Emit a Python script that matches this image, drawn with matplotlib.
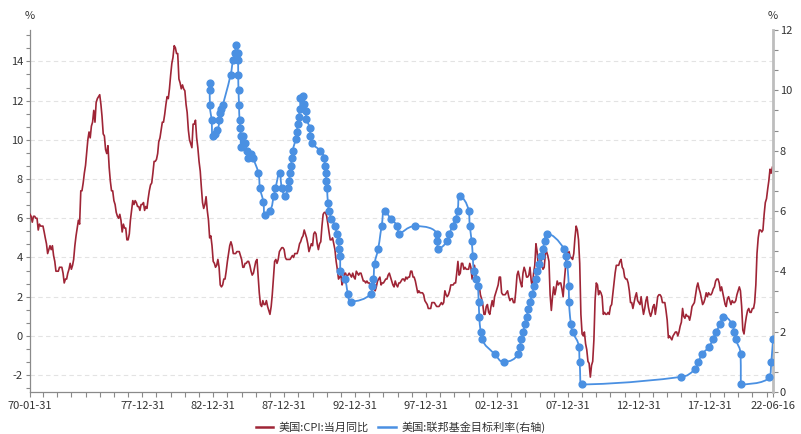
import numpy as np
import pandas as pd
import matplotlib
matplotlib.use("Agg")
import matplotlib.pyplot as plt
import matplotlib.dates as mdates
from matplotlib.path import Path
from matplotlib.patches import PathPatch
from matplotlib.lines import Line2D

plt.rcParams['font.family'] = ['Noto Sans CJK SC', 'DejaVu Sans']

# ---------------- data ----------------
cpi_start = "1970-01-31"   # monthly, month-end
cpi_yoy = [
    6.2, 6.1, 5.8, 6.1, 6.1, 6.0, 6.0, 5.4, 5.7, 5.6, 5.6, 5.6,      # 1970
    5.3, 5.0, 4.7, 4.2, 4.4, 4.6, 4.4, 4.6, 4.1, 3.8, 3.3, 3.3,      # 1971
    3.3, 3.5, 3.5, 3.5, 3.2, 2.7, 2.9, 2.9, 3.2, 3.4, 3.7, 3.4,      # 1972
    3.6, 3.9, 4.6, 5.1, 5.5, 5.9, 5.7, 7.4, 7.4, 7.8, 8.3, 8.7,      # 1973
    9.4, 10.0, 10.4, 10.1, 10.7, 10.9, 11.5, 10.9, 11.9, 12.1, 12.2, 12.3,  # 1974
    11.8, 11.2, 10.3, 10.2, 9.5, 9.3, 9.7, 8.6, 7.9, 7.4, 7.4, 6.9,  # 1975
    6.7, 6.3, 6.1, 6.0, 6.2, 5.9, 5.3, 5.7, 5.5, 5.5, 4.9, 4.9,      # 1976
    5.2, 5.9, 6.4, 6.9, 6.7, 6.9, 6.8, 6.6, 6.6, 6.4, 6.7, 6.7,      # 1977
    6.8, 6.4, 6.6, 6.5, 7.0, 7.4, 7.7, 7.8, 8.3, 8.9, 8.9, 9.0,      # 1978
    9.3, 9.9, 10.1, 10.5, 10.9, 10.9, 11.3, 11.8, 12.2, 12.1, 12.6, 13.3,  # 1979
    13.9, 14.2, 14.8, 14.7, 14.4, 14.4, 13.1, 12.9, 12.6, 12.8, 12.6, 12.5,  # 1980
    11.8, 11.4, 10.5, 10.0, 9.8, 9.6, 10.8, 10.8, 11.0, 10.1, 9.6, 8.9,  # 1981
    8.4, 7.6, 6.8, 6.5, 6.7, 7.1, 6.4, 5.9, 5.0, 5.1, 4.6, 3.8,      # 1982
    3.7, 3.5, 3.6, 3.9, 3.5, 2.6, 2.5, 2.6, 2.9, 2.9, 3.3, 3.8,      # 1983
    4.2, 4.6, 4.8, 4.6, 4.2, 4.2, 4.2, 4.3, 4.3, 4.3, 4.1, 3.9,      # 1984
    3.5, 3.5, 3.7, 3.7, 3.8, 3.8, 3.6, 3.3, 3.1, 3.2, 3.5, 3.8,      # 1985
    3.9, 3.1, 2.2, 1.6, 1.5, 1.8, 1.6, 1.6, 1.8, 1.5, 1.3, 1.1,      # 1986
    1.5, 2.1, 3.0, 3.8, 3.9, 3.7, 3.9, 4.3, 4.4, 4.5, 4.5, 4.4,      # 1987
    4.0, 3.9, 3.9, 3.9, 3.9, 4.0, 4.1, 4.0, 4.2, 4.2, 4.2, 4.4,      # 1988
    4.7, 4.8, 5.0, 5.1, 5.4, 5.2, 5.0, 4.7, 4.3, 4.5, 4.7, 4.6,      # 1989
    5.2, 5.3, 5.2, 4.7, 4.4, 4.7, 4.8, 5.6, 6.2, 6.3, 6.3, 6.1,      # 1990
    5.7, 5.3, 4.9, 4.9, 5.0, 4.7, 4.4, 3.8, 3.4, 2.9, 3.0, 3.1,      # 1991
    2.6, 2.8, 3.2, 3.2, 3.0, 3.1, 3.2, 3.1, 3.0, 3.2, 3.0, 2.9,      # 1992
    3.3, 3.2, 3.1, 3.2, 3.2, 3.0, 2.8, 2.8, 2.7, 2.8, 2.7, 2.7,      # 1993
    2.5, 2.5, 2.5, 2.4, 2.3, 2.5, 2.8, 2.9, 3.0, 2.6, 2.7, 2.7,      # 1994
    2.8, 2.9, 2.9, 3.1, 3.2, 3.0, 2.8, 2.6, 2.5, 2.8, 2.6, 2.5,      # 1995
    2.7, 2.7, 2.8, 2.9, 2.9, 2.8, 3.0, 2.9, 3.0, 3.0, 3.3, 3.3,      # 1996
    3.0, 3.0, 2.8, 2.5, 2.2, 2.3, 2.2, 2.2, 2.2, 2.1, 1.8, 1.7,      # 1997
    1.6, 1.4, 1.4, 1.4, 1.7, 1.7, 1.7, 1.6, 1.5, 1.5, 1.5, 1.6,      # 1998
    1.7, 1.6, 1.7, 2.3, 2.1, 2.0, 2.1, 2.3, 2.6, 2.6, 2.6, 2.7,      # 1999
    2.7, 3.2, 3.8, 3.1, 3.2, 3.7, 3.7, 3.4, 3.5, 3.4, 3.4, 3.4,      # 2000
    3.7, 3.5, 2.9, 3.3, 3.6, 3.2, 2.7, 2.7, 2.6, 2.1, 1.9, 1.6,      # 2001
    1.1, 1.1, 1.5, 1.6, 1.2, 1.1, 1.5, 1.8, 1.5, 2.0, 2.2, 2.4,      # 2002
    2.6, 3.0, 3.0, 2.2, 2.1, 2.1, 2.1, 2.2, 2.3, 2.0, 1.8, 1.9,      # 2003
    1.9, 1.7, 1.7, 2.3, 3.1, 3.3, 3.0, 2.7, 2.5, 3.2, 3.5, 3.3,      # 2004
    3.0, 3.0, 3.1, 3.5, 2.8, 2.5, 3.2, 3.6, 4.7, 4.3, 3.5, 3.4,      # 2005
    4.0, 3.6, 3.4, 3.5, 4.2, 4.3, 4.1, 3.8, 2.1, 1.3, 2.0, 2.5,      # 2006
    2.1, 2.4, 2.8, 2.6, 2.7, 2.7, 2.4, 2.0, 2.8, 3.5, 4.3, 4.1,      # 2007
    4.3, 4.0, 4.0, 3.9, 4.2, 5.0, 5.6, 5.4, 4.9, 3.7, 1.1, 0.1,      # 2008
    0.0, 0.2, -0.4, -0.7, -1.3, -1.4, -2.1, -1.5, -1.3, -0.2, 1.8, 2.7,  # 2009
    2.6, 2.1, 2.3, 2.2, 2.0, 1.1, 1.2, 1.1, 1.1, 1.2, 1.1, 1.5,      # 2010
    1.6, 2.1, 2.7, 3.2, 3.6, 3.6, 3.6, 3.8, 3.9, 3.5, 3.4, 3.0,      # 2011
    2.9, 2.9, 2.7, 2.3, 1.7, 1.7, 1.4, 1.7, 2.0, 2.2, 1.8, 1.7,      # 2012
    1.6, 2.0, 1.5, 1.1, 1.4, 1.8, 2.0, 1.5, 1.2, 1.0, 1.2, 1.5,      # 2013
    1.6, 1.1, 1.5, 2.0, 2.1, 2.1, 2.0, 1.7, 1.7, 1.7, 1.3, 0.8,      # 2014
    -0.1, 0.0, -0.1, -0.2, 0.0, 0.1, 0.2, 0.2, 0.0, 0.2, 0.5, 0.7,   # 2015
    1.4, 1.0, 0.9, 1.1, 1.0, 1.0, 0.8, 1.1, 1.5, 1.6, 1.7, 2.1,      # 2016
    2.5, 2.7, 2.4, 2.2, 1.9, 1.6, 1.7, 1.9, 2.2, 2.0, 2.2, 2.1,      # 2017
    2.1, 2.2, 2.4, 2.5, 2.8, 2.9, 2.9, 2.7, 2.3, 2.5, 2.2, 1.9,      # 2018
    1.6, 1.5, 1.9, 2.0, 1.8, 1.6, 1.8, 1.7, 1.7, 1.8, 2.1, 2.3,      # 2019
    2.5, 2.3, 1.5, 0.3, 0.1, 0.6, 1.0, 1.3, 1.4, 1.2, 1.2, 1.4,      # 2020
    1.4, 1.7, 2.6, 4.2, 5.0, 5.4, 5.4, 5.3, 5.4, 6.2, 6.8, 7.0,      # 2021
    7.5, 7.9, 8.5, 8.3, 8.6,                                          # 2022
]

fed_dates = [
    "1982-09-27", "1982-10-01", "1982-10-07", "1982-11-19", "1982-12-14",
    "1983-02-10", "1983-04-20", "1983-06-10", "1983-06-24", "1983-07-30", "1983-09-01",
    "1984-03-20", "1984-05-25", "1984-07-15", "1984-08-09", "1984-09-28", "1984-10-02",
    "1984-10-05", "1984-10-12", "1984-10-26", "1984-11-08", "1984-11-30", "1984-12-06",
    "1984-12-18",
    "1985-02-07", "1985-03-21", "1985-05-20", "1985-06-15", "1985-09-10", "1985-10-25",
    "1986-03-07", "1986-04-21", "1986-07-11", "1986-08-21", "1986-12-31",
    "1987-04-10", "1987-05-20", "1987-09-04", "1987-11-04",
    "1988-01-28", "1988-03-30", "1988-05-09", "1988-05-25", "1988-06-22", "1988-07-19",
    "1988-08-08", "1988-10-20", "1988-11-17", "1988-12-20",
    "1989-01-10", "1989-02-10", "1989-02-24", "1989-05-04", "1989-06-06", "1989-07-07",
    "1989-07-27", "1989-10-18", "1989-11-06", "1989-12-20",
    "1990-07-13", "1990-10-29", "1990-11-14", "1990-12-07", "1990-12-19",
    "1991-01-09", "1991-02-01", "1991-03-08", "1991-04-30", "1991-08-06", "1991-09-13",
    "1991-10-31", "1991-11-06", "1991-12-06", "1991-12-20",
    "1992-04-09", "1992-07-02", "1992-09-04",
    "1994-02-04", "1994-03-22", "1994-04-18", "1994-05-17", "1994-08-16", "1994-11-15",
    "1995-02-01", "1995-07-06", "1995-12-19", "1996-01-31", "1997-03-25",
    "1998-09-29", "1998-10-15", "1998-11-17", "1999-06-30", "1999-08-24", "1999-11-16",
    "2000-02-02", "2000-03-21", "2000-05-16",
    "2001-01-03", "2001-01-31", "2001-03-20", "2001-04-18", "2001-05-15", "2001-06-27",
    "2001-08-21", "2001-09-17", "2001-10-02", "2001-11-06", "2001-12-11",
    "2002-11-06", "2003-06-25",
    "2004-06-30", "2004-08-10", "2004-09-21", "2004-11-10", "2004-12-14",
    "2005-02-02", "2005-03-22", "2005-05-03", "2005-06-30", "2005-08-09", "2005-09-20",
    "2005-11-01", "2005-12-13",
    "2006-01-31", "2006-03-28", "2006-05-10", "2006-06-29",
    "2007-09-18", "2007-10-31", "2007-12-11",
    "2008-01-22", "2008-01-30", "2008-03-18", "2008-04-30", "2008-10-08", "2008-10-29",
    "2008-12-16",
    "2015-12-16", "2016-12-14", "2017-03-15", "2017-06-14", "2017-12-13",
    "2018-03-21", "2018-06-13", "2018-09-26", "2018-12-19",
    "2019-07-31", "2019-09-18", "2019-10-30", "2020-03-03", "2020-03-15",
    "2022-03-16", "2022-05-04", "2022-06-15",
]
fed_rates = [
    10.25, 10.00, 9.50, 9.00, 8.50,
    8.5625, 8.6875, 9.00, 9.25, 9.375, 9.50,
    10.50, 11.00, 11.25, 11.50, 11.25, 11.00,
    10.50, 10.00, 9.50, 9.00, 8.75, 8.50,
    8.125,
    8.50, 8.25, 8.00, 7.75, 7.90, 7.75,
    7.25, 6.75, 6.3125, 5.875, 6.00,
    6.50, 6.75, 7.25, 6.75,
    6.50, 6.75, 7.00, 7.25, 7.50, 7.75,
    8.00, 8.375, 8.625, 8.875,
    9.125, 9.375, 9.75, 9.8125, 9.5625, 9.3125,
    9.0625, 8.75, 8.50, 8.25,
    8.00, 7.75, 7.50, 7.25, 7.00,
    6.75, 6.25, 6.00, 5.75, 5.50, 5.25,
    5.00, 4.75, 4.50, 4.00,
    3.75, 3.25, 3.00,
    3.25, 3.50, 3.75, 4.25, 4.75, 5.50,
    6.00, 5.75, 5.50, 5.25, 5.50,
    5.25, 5.00, 4.75, 5.00, 5.25, 5.50,
    5.75, 6.00, 6.50,
    6.00, 5.50, 5.00, 4.50, 4.00, 3.75,
    3.50, 3.00, 2.50, 2.00, 1.75,
    1.25, 1.00,
    1.25, 1.50, 1.75, 2.00, 2.25,
    2.50, 2.75, 3.00, 3.25, 3.50, 3.75,
    4.00, 4.25,
    4.50, 4.75, 5.00, 5.25,
    4.75, 4.50, 4.25,
    3.50, 3.00, 2.25, 2.00, 1.50, 1.00,
    0.25,
    0.50, 0.75, 1.00, 1.25, 1.50,
    1.75, 2.00, 2.25, 2.50,
    2.25, 2.00, 1.75, 1.25, 0.25,
    0.50, 1.00, 1.75,
]

x_start, x_end = "1970-01-31", "2022-06-16"
x_label_dates = ["1970-01-31", "1977-12-31", "1982-12-31", "1987-12-31", "1992-12-31",
                 "1997-12-31", "2002-12-31", "2007-12-31", "2012-12-31", "2017-12-31",
                 "2022-06-16"]
left_ticks = [-2, 0, 2, 4, 6, 8, 10, 12, 14]
right_ticks = [0, 2, 4, 6, 8, 10, 12]
series_names = ["美国:CPI:当月同比", "美国:联邦基金目标利率(右轴)"]

# ---------------- style ----------------
RED = "#9F2536"
BLUE = "#4A90E2"
TXT = "#333333"
W, H = 801, 434

fig = plt.figure(figsize=(W / 100, H / 100), dpi=100)
ax = fig.add_axes([30 / W, 42 / H, 743 / W, 362 / H])
ax2 = ax.twinx()

cpi_x = pd.date_range(cpi_start, periods=len(cpi_yoy), freq="ME")
fed_x = pd.to_datetime(fed_dates)

ax.set_xlim(mdates.date2num(pd.Timestamp(x_start)), mdates.date2num(pd.Timestamp(x_end)))
ax.set_ylim(-2.86, 15.6)
ax2.set_ylim(0, 12)

# x ticks: first date, every Dec 31, last date
tick_dates = [pd.Timestamp(x_start)] + [pd.Timestamp(f"{y}-12-31") for y in range(1970, 2022)] + [pd.Timestamp(x_end)]
label_set = set(pd.to_datetime(x_label_dates))
ax.set_xticks([mdates.date2num(d) for d in tick_dates])
ax.set_xticklabels([d.strftime("%y-%m-%d") if d in label_set else "" for d in tick_dates])

ax.set_yticks(left_ticks)
ax.set_yticklabels([str(v) for v in left_ticks])
ax.set_yticks([k * 2 / 3 for k in range(-4, 24) if k % 3 != 0], minor=True)
ax2.set_yticks(right_ticks)
ax2.set_yticklabels([str(v) for v in right_ticks])
ax2.set_yticks([k * 2 / 3 for k in range(0, 18) if k % 3 != 0], minor=True)

for a in (ax, ax2):
    for s in a.spines.values():
        s.set_visible(False)
ax.spines["left"].set_visible(True)
ax.spines["left"].set_color("#8a8a8a")
ax.spines["left"].set_linewidth(0.9)
ax.spines["bottom"].set_visible(True)
ax.spines["bottom"].set_color("#8a8a8a")
ax.spines["bottom"].set_linewidth(0.9)
ax2.spines["right"].set_visible(True)
ax2.spines["right"].set_color("#bdbdbd")
ax2.spines["right"].set_linewidth(2.0)

ax.tick_params(axis="x", which="both", length=3.4, width=0.8, color="#8a8a8a",
               labelsize=8, labelcolor=TXT, pad=3)
ax.tick_params(axis="y", which="both", length=3.0, width=0.8, color="#8a8a8a",
               labelsize=8, labelcolor=TXT, pad=2)
ax2.tick_params(axis="y", which="both", length=3.4, width=0.8, color="#8a8a8a",
                labelsize=8, labelcolor=TXT, pad=1.5)

ax.yaxis.grid(True, which="major", linestyle=(0, (4, 3)), color="#e3e3e3", linewidth=0.8)
ax.set_axisbelow(True)

# CPI line
ax.plot(cpi_x, cpi_yoy, color=RED, lw=1.2, solid_joinstyle="round", zorder=3)


# Fed target line, smoothed like the original (bezier through every point)
def smooth_path(a, xs, ys, s=0.5):
    P = a.transData.transform(np.column_stack([xs, ys]))
    Q = [P[0]]
    for p in P[1:]:
        d = p - Q[-1]
        if d[0] ** 2 + d[1] ** 2 >= 0.5:
            Q.append(p)
    Q = np.array(Q)
    n = len(Q)
    verts = [Q[0]]
    codes = [Path.MOVETO]
    cp0 = Q[0].copy()
    for i in range(1, n):
        x, y = Q[i]
        px, py = Q[i - 1]
        if i == n - 1:
            cp1 = np.array([x, y])
            ncp0 = None
        else:
            nx, ny = Q[i + 1]
            vx, vy = nx - px, ny - py
            l0 = np.hypot(x - px, y - py)
            l1 = np.hypot(nx - x, ny - y)
            r = l1 / (l1 + l0)
            ncx = x + vx * s * r
            ncy = y + vy * s * r
            ncx = min(ncx, max(nx, x)); ncy = min(ncy, max(ny, y))
            ncx = max(ncx, min(nx, x)); ncy = max(ncy, min(ny, y))
            vx, vy = ncx - x, ncy - y
            c1x = x - vx * l0 / l1
            c1y = y - vy * l0 / l1
            c1x = min(c1x, max(px, x)); c1y = min(c1y, max(py, y))
            c1x = max(c1x, min(px, x)); c1y = max(c1y, min(py, y))
            vx, vy = x - c1x, y - c1y
            ncx = x + vx * l1 / l0
            ncy = y + vy * l1 / l0
            cp1 = np.array([c1x, c1y])
            ncp0 = np.array([ncx, ncy])
        verts += [cp0, cp1, np.array([x, y])]
        codes += [Path.CURVE4] * 3
        cp0 = ncp0
    V = a.transData.inverted().transform(np.array(verts))
    return Path(V, codes)


fx = mdates.date2num(fed_x)
path = smooth_path(ax2, fx, np.array(fed_rates))
ax2.add_patch(PathPatch(path, fill=False, edgecolor=BLUE, lw=1.3, zorder=3))
ax2.plot(fx, fed_rates, linestyle="none", marker="o", markersize=4.9,
         markerfacecolor=BLUE, markeredgecolor=BLUE, zorder=4)

# % unit labels
fig.text(30 / W, 1 - 16 / H, "%", ha="center", va="center", fontsize=8, color=TXT)
fig.text(773 / W, 1 - 16 / H, "%", ha="center", va="center", fontsize=8, color=TXT)

handles = [Line2D([], [], color=RED, lw=1.8), Line2D([], [], color=BLUE, lw=1.8)]
fig.legend(handles, series_names, loc="center", bbox_to_anchor=(0.5, 7.0 / H), ncol=2,
           frameon=False, fontsize=8, handlelength=1.6, handletextpad=0.5,
           columnspacing=0.8, labelcolor=TXT)

fig.savefig("out.png", dpi=100)
